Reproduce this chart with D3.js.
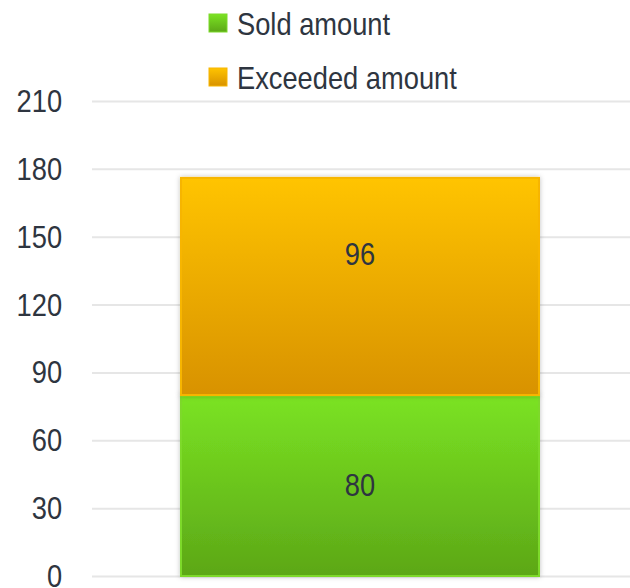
<!DOCTYPE html>
<html><head><meta charset="utf-8">
<script src="https://cdn.jsdelivr.net/npm/d3@7"></script>
<style>
html,body{margin:0;padding:0;background:#fff;}
text{font-family:"Liberation Sans Narrow","Liberation Sans",Arial,sans-serif;}
</style></head>
<body><svg id="c" width="630" height="588"></svg>
<script>
const categories = ["Amount"];
const seriesNames = ["Sold amount", "Exceeded amount"];
const soldValues = [80];
const exceededValues = [96];
const yTicks = [0, 30, 60, 90, 120, 150, 180, 210];

const svg = d3.select("#c");
const SX = 0.88; // horizontal condensing of text
const y = d3.scaleLinear().domain([0, 210]).range([576, 101]);
const xs = d3.scaleBand().domain(categories).range([92, 628]).paddingInner(0).paddingOuter(0.2486);

const defs = svg.append("defs");
const grads = [
  {id:"gGreen", top:"#7BE323", bot:"#5CA717", stroke:"#7DD92A"},
  {id:"gOrange", top:"#FFC400", bot:"#D89200", stroke:"#F7B500"}
];
grads.forEach(g=>{
  const lg = defs.append("linearGradient").attr("id",g.id).attr("x1",0).attr("y1",0).attr("x2",0).attr("y2",1);
  lg.append("stop").attr("offset","0%").attr("stop-color",g.top);
  lg.append("stop").attr("offset","100%").attr("stop-color",g.bot);
});
const f = defs.append("filter").attr("id","sh").attr("x","-10%").attr("y","-10%").attr("width","120%").attr("height","120%");
f.append("feDropShadow").attr("dx",0).attr("dy",0).attr("stdDeviation",2.5).attr("flood-color","#000").attr("flood-opacity",0.25);

// y axis
const yAxis = d3.axisLeft(y).tickValues(yTicks).tickSize(-(630-92)).tickPadding(34);
const ga = svg.append("g").attr("transform","translate(92,0)").call(yAxis);
ga.select(".domain").remove();
ga.selectAll(".tick line").attr("stroke","#e6e6e6").attr("stroke-width",2);
ga.selectAll(".tick text").attr("fill","#2e3540").attr("font-size","31px").attr("dy","0.34em")
  .attr("transform",`scale(${SX},1)`);

// stacked data
const rows = categories.map((c,i)=>({cat:c, sold:soldValues[i], exceeded:exceededValues[i]}));
const stack = d3.stack().keys(["sold","exceeded"])(rows);
const labelFrac = [0.5, 0.35];

stack.forEach((layer, li)=>{
  const g = grads[li];
  svg.append("g").selectAll("rect").data(layer).join("rect")
    .attr("x", d=>xs(d.data.cat))
    .attr("width", xs.bandwidth())
    .attr("y", d=>y(d[1]))
    .attr("height", d=>y(d[0])-y(d[1]))
    .attr("fill", `url(#${g.id})`)
    .attr("stroke", g.stroke).attr("stroke-width",2)
    .attr("filter","url(#sh)");
});
stack.forEach((layer, li)=>{
  svg.append("g").selectAll("text").data(layer).join("text")
    .attr("transform", d=>`translate(${xs(d.data.cat)+xs.bandwidth()/2},${y(d[1]) + (y(d[0])-y(d[1]))*labelFrac[li]}) scale(${SX},1)`)
    .attr("dy","0.35em")
    .attr("text-anchor","middle")
    .attr("fill","#2e3540").attr("font-size","31px")
    .text(d=>d[1]-d[0]);
});

// legend
const leg = svg.append("g").selectAll("g").data(seriesNames).join("g")
  .attr("transform",(d,i)=>`translate(209,${14+i*54})`);
leg.append("rect").attr("width",18).attr("height",18)
  .attr("fill",(d,i)=>`url(#${grads[i].id})`).attr("stroke",(d,i)=>grads[i].stroke).attr("stroke-width",1);
leg.append("text").attr("transform",`translate(28,20.5) scale(${SX},1)`).attr("fill","#2e3540").attr("font-size","31px").text(d=>d);
</script></body></html>
